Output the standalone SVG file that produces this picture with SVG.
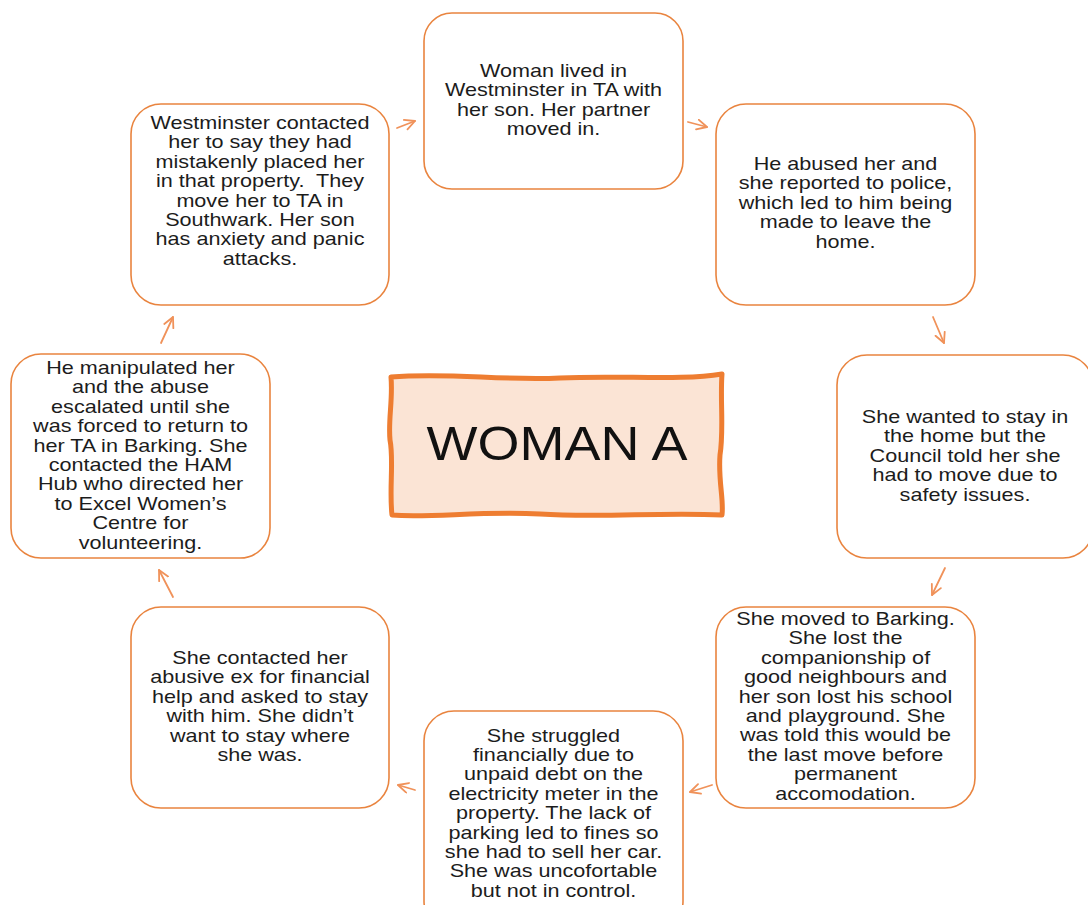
<svg xmlns="http://www.w3.org/2000/svg" width="1088" height="905" viewBox="0 0 1088 905">
<defs>
<style>
.box{fill:#fff;stroke:#E9843F;stroke-width:1.6}
.t{font-family:"Liberation Sans",Arial,sans-serif;font-size:18px;fill:#1c1c1c;text-anchor:middle}
.arr{fill:none;stroke:#F0925A;stroke-width:1.8;stroke-linecap:round}
</style>
<marker id="ah" markerUnits="userSpaceOnUse" markerWidth="16" markerHeight="16" refX="11" refY="6" orient="auto">
<path d="M1,1 L11,6 L1,11" fill="none" stroke="#F0925A" stroke-width="1.8" stroke-linecap="round" stroke-linejoin="round"/>
</marker>
</defs>
<rect width="1088" height="905" fill="#fff"/>

<g id="center">
<path d="M391,377 C450,372 500,381 560,378 C620,375 680,381 722,374 C720,400 724,430 720,455 C718,480 724,500 722,515 C660,512 600,518 540,514 C480,511 430,518 392,515 C389,490 394,460 390,440 C388,420 393,400 391,377 Z" fill="#FBE4D5" stroke="#EE7D31" stroke-width="5" stroke-linejoin="round"/>
<text x="557" y="460" font-family="'Liberation Sans',Arial,sans-serif" font-size="49" fill="#111" text-anchor="middle" textLength="261" lengthAdjust="spacingAndGlyphs">WOMAN A</text>
</g>

<g id="n1">
<rect class="box" x="424" y="13" width="259" height="176" rx="28"/>
<g transform="translate(553.5,0) scale(1.2,1)">
<text class="t" x="0" y="77">Woman lived in</text>
<text class="t" x="0" y="96.4">Westminster in TA with</text>
<text class="t" x="0" y="115.8">her son. Her partner</text>
<text class="t" x="0" y="135.2">moved in.</text>
</g>
</g>

<g id="n2">
<rect class="box" x="716" y="104" width="259" height="201" rx="30"/>
<g transform="translate(845.5,0) scale(1.2,1)">
<text class="t" x="0" y="170">He abused her and</text>
<text class="t" x="0" y="189.4">she reported to police,</text>
<text class="t" x="0" y="208.8">which led to him being</text>
<text class="t" x="0" y="228.2">made to leave the</text>
<text class="t" x="0" y="247.6">home.</text>
</g>
</g>

<g id="n3">
<rect class="box" x="837" y="355" width="256" height="203" rx="30"/>
<g transform="translate(965,0) scale(1.2,1)">
<text class="t" x="0" y="423">She wanted to stay in</text>
<text class="t" x="0" y="442.4">the home but the</text>
<text class="t" x="0" y="461.8">Council told her she</text>
<text class="t" x="0" y="481.2">had to move due to</text>
<text class="t" x="0" y="500.6">safety issues.</text>
</g>
</g>

<g id="n4">
<rect class="box" x="716" y="607" width="259" height="201" rx="30"/>
<g transform="translate(845.5,0) scale(1.2,1)">
<text class="t" x="0" y="625">She moved to Barking.</text>
<text class="t" x="0" y="644.4">She lost the</text>
<text class="t" x="0" y="663.8">companionship of</text>
<text class="t" x="0" y="683.2">good neighbours and</text>
<text class="t" x="0" y="702.6">her son lost his school</text>
<text class="t" x="0" y="722">and playground. She</text>
<text class="t" x="0" y="741.4">was told this would be</text>
<text class="t" x="0" y="760.8">the last move before</text>
<text class="t" x="0" y="780.2">permanent</text>
<text class="t" x="0" y="799.6">accomodation.</text>
</g>
</g>

<g id="n5">
<rect class="box" x="424" y="711" width="259" height="220" rx="30"/>
<g transform="translate(553.5,0) scale(1.2,1)">
<text class="t" x="0" y="741.7">She struggled</text>
<text class="t" x="0" y="761.1">financially due to</text>
<text class="t" x="0" y="780.5">unpaid debt on the</text>
<text class="t" x="0" y="799.9">electricity meter in the</text>
<text class="t" x="0" y="819.3">property. The lack of</text>
<text class="t" x="0" y="838.7">parking led to fines so</text>
<text class="t" x="0" y="858.1">she had to sell her car.</text>
<text class="t" x="0" y="877.5">She was uncofortable</text>
<text class="t" x="0" y="896.9">but not in control.</text>
</g>
</g>

<g id="n6">
<rect class="box" x="131" y="607" width="258" height="201" rx="30"/>
<g transform="translate(260,0) scale(1.2,1)">
<text class="t" x="0" y="664">She contacted her</text>
<text class="t" x="0" y="683.4">abusive ex for financial</text>
<text class="t" x="0" y="702.8">help and asked to stay</text>
<text class="t" x="0" y="722.2">with him. She didn’t</text>
<text class="t" x="0" y="741.6">want to stay where</text>
<text class="t" x="0" y="761">she was.</text>
</g>
</g>

<g id="n7">
<rect class="box" x="11" y="354" width="259" height="204" rx="30"/>
<g transform="translate(140.5,0) scale(1.2,1)">
<text class="t" x="0" y="374">He manipulated her</text>
<text class="t" x="0" y="393.4">and the abuse</text>
<text class="t" x="0" y="412.8">escalated until she</text>
<text class="t" x="0" y="432.2">was forced to return to</text>
<text class="t" x="0" y="451.6">her TA in Barking. She</text>
<text class="t" x="0" y="471">contacted the HAM</text>
<text class="t" x="0" y="490.4">Hub who directed her</text>
<text class="t" x="0" y="509.8">to Excel Women’s</text>
<text class="t" x="0" y="529.2">Centre for</text>
<text class="t" x="0" y="548.6">volunteering.</text>
</g>
</g>

<g id="n8">
<rect class="box" x="131" y="104" width="258" height="201" rx="30"/>
<g transform="translate(260,0) scale(1.2,1)">
<text class="t" x="0" y="129">Westminster contacted</text>
<text class="t" x="0" y="148.4">her to say they had</text>
<text class="t" x="0" y="167.8">mistakenly placed her</text>
<text class="t" x="0" y="187.2" xml:space="preserve">in that property.  They</text>
<text class="t" x="0" y="206.6">move her to TA in</text>
<text class="t" x="0" y="226">Southwark. Her son</text>
<text class="t" x="0" y="245.4">has anxiety and panic</text>
<text class="t" x="0" y="264.8">attacks.</text>
</g>
</g>

<g id="connectors">
<path class="arr" d="M397,128 L415,121" marker-end="url(#ah)"/>
<path class="arr" d="M688,122 L707,127" marker-end="url(#ah)"/>
<path class="arr" d="M933,317 L944,343" marker-end="url(#ah)"/>
<path class="arr" d="M945,568 L932,595" marker-end="url(#ah)"/>
<path class="arr" d="M712,785 L690,792" marker-end="url(#ah)"/>
<path class="arr" d="M415,790 L398,785" marker-end="url(#ah)"/>
<path class="arr" d="M173,597 L159,570" marker-end="url(#ah)"/>
<path class="arr" d="M161,343 L173,317" marker-end="url(#ah)"/>
</g>
</svg>
